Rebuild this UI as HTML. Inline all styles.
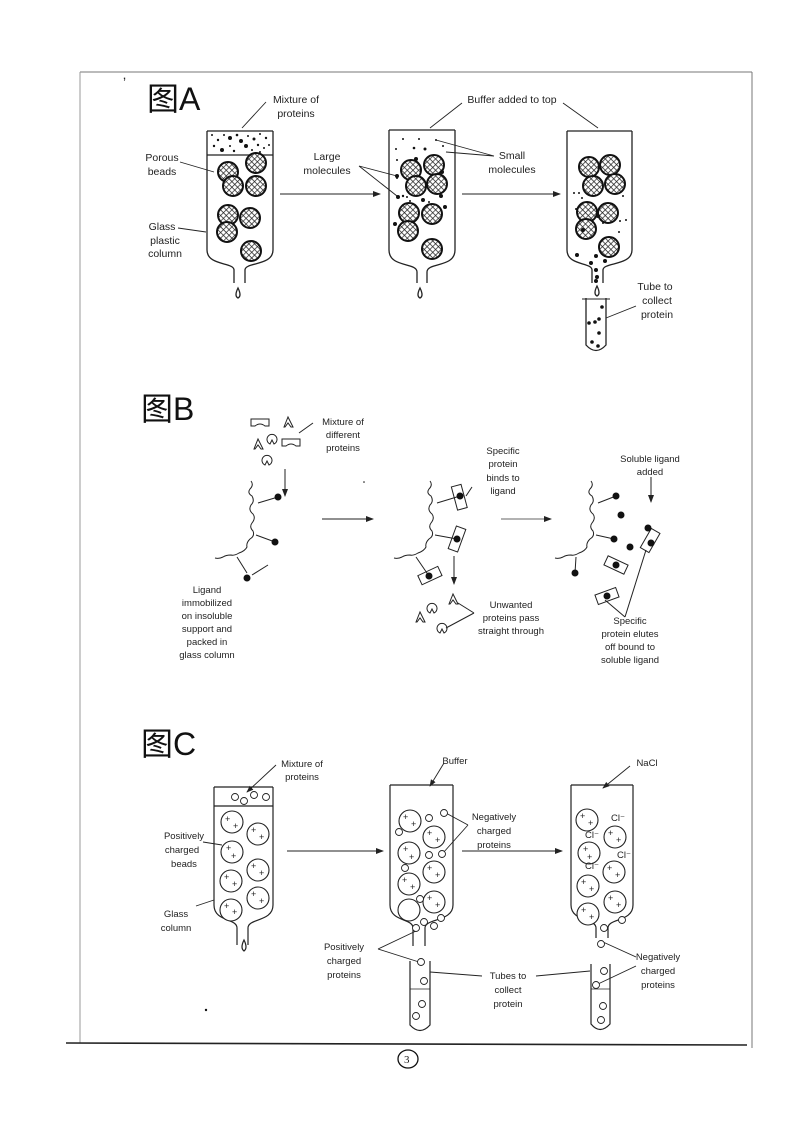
<!DOCTYPE html>
<html><head><meta charset="utf-8"><style>
html,body{margin:0;padding:0;background:#fff}
svg{display:block}
text{font-family:"Liberation Sans",Arial,sans-serif;font-size:10.5px;fill:#222}
.t{font-family:"Liberation Sans","Noto Sans CJK SC",sans-serif;font-size:32px;fill:#111}
</style></head><body>
<svg width="799" height="1122" viewBox="0 0 799 1122" xmlns="http://www.w3.org/2000/svg">
<defs>
<pattern id="h" width="4" height="4" patternUnits="userSpaceOnUse" patternTransform="rotate(45)">
<rect width="4" height="4" fill="#fff"/><path d="M0 0H4M0 0V4" stroke="#222" stroke-width="1.4"/>
</pattern>
<marker id="ar" markerWidth="8" markerHeight="6" refX="7" refY="3" orient="auto"><path d="M0,0 L8,3 L0,6 z" fill="#222"/></marker>
</defs>
<g stroke="#333" fill="none" stroke-width="1">
<!-- frame -->
<line x1="80" y1="72" x2="752" y2="72" stroke="#777"/>
<line x1="80" y1="72" x2="80" y2="1043" stroke="#999"/>
<line x1="752" y1="72" x2="752" y2="1048" stroke="#777"/>
<line x1="66" y1="1043" x2="747" y2="1045" stroke="#222" stroke-width="1.6"/>
<ellipse cx="408" cy="1059" rx="10" ry="9" stroke="#111" stroke-width="1.3"/>
</g>
<text x="404" y="1063" style="font-family:'Liberation Serif',serif;font-size:11px">3</text>
<text x="123" y="88" style="font-size:14px">ʼ</text>

<!-- ===== A ===== -->
<text class="t" x="147" y="110">图A</text>
<g stroke="#222" fill="none" stroke-width="1.3">
<!-- column A1 -->
<path d="M207 131 V250 C207 266 234 262 234 270 V283 M273 131 V250 C273 266 245 262 245 270 V283"/>
<line x1="207" y1="131" x2="273" y2="131"/><line x1="207" y1="155" x2="273" y2="155"/>
<path d="M238 288 Q234 296 238 298 Q242 296 238 288Z"/>
<!-- column A2 -->
<path d="M389 130 V250 C389 268 417 262 417 272 V283 M455 130 V250 C455 268 427 262 427 272 V283"/>
<line x1="389" y1="130" x2="455" y2="130"/>
<path d="M420 288 Q416 296 420 298 Q424 296 420 288Z"/>
<!-- column A3 -->
<path d="M567 131 V250 C567 266 592 262 592 270 V283 M632 131 V250 C632 266 603 262 603 270 V283"/>
<line x1="567" y1="131" x2="632" y2="131"/>
<path d="M597 286 Q593 294 597 296 Q601 294 597 286Z"/>
<path d="M586 298 V345 Q596 356 606 345 V298"/><line x1="582" y1="299" x2="610" y2="299" stroke-width="1"/>
<!-- arrows -->
<line x1="280" y1="194" x2="380" y2="194" marker-end="url(#ar)" stroke-width="1"/>
<line x1="462" y1="194" x2="560" y2="194" marker-end="url(#ar)" stroke-width="1"/>
<!-- leader lines -->
<g stroke-width="0.9">
<path d="M266 102 L242 128"/><path d="M180 162 L214 172"/><path d="M178 228 L206 232"/>
<path d="M359 166 L397 176 M359 166 L397 196"/>
<path d="M494 156 L436 140 M494 156 L446 152"/>
<path d="M462 103 L430 128 M563 103 L598 128"/>
<path d="M636 306 L606 318"/>
</g>
</g>
<g stroke="#111" stroke-width="2" fill="url(#h)">
<circle cx="228" cy="172" r="10"/><circle cx="256" cy="163" r="10"/><circle cx="233" cy="186" r="10"/><circle cx="256" cy="186" r="10"/>
<circle cx="228" cy="215" r="10"/><circle cx="250" cy="218" r="10"/><circle cx="227" cy="232" r="10"/><circle cx="251" cy="251" r="10"/>
<circle cx="411" cy="170" r="10"/><circle cx="434" cy="165" r="10"/><circle cx="416" cy="186" r="10"/><circle cx="437" cy="184" r="10"/>
<circle cx="409" cy="213" r="10"/><circle cx="432" cy="214" r="10"/><circle cx="408" cy="231" r="10"/><circle cx="432" cy="249" r="10"/>
<circle cx="589" cy="167" r="10"/><circle cx="610" cy="165" r="10"/><circle cx="593" cy="186" r="10"/><circle cx="615" cy="184" r="10"/>
<circle cx="587" cy="212" r="10"/><circle cx="608" cy="213" r="10"/><circle cx="586" cy="229" r="10"/><circle cx="609" cy="247" r="10"/>
</g>
<g fill="#111">
<!-- mixture dots -->
<circle cx="212" cy="135" r="1"/><circle cx="218" cy="140" r="1.2"/><circle cx="224" cy="135" r="1"/><circle cx="230" cy="138" r="2"/><circle cx="237" cy="135" r="1.3"/><circle cx="241" cy="141" r="2"/><circle cx="248" cy="136" r="1"/><circle cx="254" cy="139" r="1.5"/><circle cx="260" cy="134" r="1"/><circle cx="266" cy="138" r="1.2"/>
<circle cx="214" cy="146" r="1.2"/><circle cx="222" cy="150" r="2"/><circle cx="230" cy="146" r="1"/><circle cx="234" cy="151" r="1.2"/><circle cx="246" cy="146" r="2"/><circle cx="252" cy="150" r="1"/><circle cx="258" cy="145" r="1.2"/><circle cx="264" cy="148" r="1"/><circle cx="269" cy="145" r="1"/><circle cx="260" cy="152" r="1"/>
<!-- A2 -->
<circle cx="396" cy="149" r="1"/><circle cx="403" cy="139" r="1"/><circle cx="414" cy="148" r="1.3"/><circle cx="419" cy="139" r="1"/><circle cx="425" cy="149" r="1.5"/><circle cx="436" cy="140" r="1"/><circle cx="443" cy="146" r="1"/><circle cx="397" cy="160" r="1"/><circle cx="416" cy="159" r="2"/><circle cx="397" cy="178" r="1"/>
<circle cx="398" cy="197" r="2"/><circle cx="403" cy="196" r="1.2"/><circle cx="407" cy="197" r="1"/><circle cx="397" cy="176" r="2"/><circle cx="423" cy="200" r="2"/><circle cx="442" cy="172" r="2"/><circle cx="441" cy="196" r="2"/><circle cx="445" cy="207" r="2"/><circle cx="395" cy="224" r="2"/><circle cx="429" cy="202" r="1"/><circle cx="410" cy="201" r="1"/>
<!-- A3 -->
<circle cx="574" cy="193" r="1"/><circle cx="579" cy="193" r="1"/><circle cx="582" cy="198" r="1"/><circle cx="623" cy="196" r="1"/><circle cx="576" cy="209" r="1"/><circle cx="603" cy="223" r="1"/><circle cx="620" cy="221" r="1"/><circle cx="626" cy="220" r="1"/><circle cx="619" cy="232" r="1"/><circle cx="583" cy="230" r="2"/><circle cx="598" cy="216" r="2"/>
<circle cx="577" cy="255" r="2"/><circle cx="596" cy="256" r="2"/><circle cx="605" cy="261" r="2"/><circle cx="591" cy="263" r="2"/><circle cx="596" cy="270" r="2"/><circle cx="597" cy="277" r="2"/><circle cx="596" cy="281" r="2"/>
<circle cx="602" cy="307" r="1.8"/><circle cx="599" cy="319" r="1.8"/><circle cx="589" cy="323" r="1.8"/><circle cx="595" cy="322" r="1.8"/><circle cx="599" cy="333" r="1.8"/><circle cx="592" cy="342" r="1.8"/><circle cx="598" cy="346" r="1.8"/>
</g>
<g text-anchor="middle">
<text x="296" y="103">Mixture of</text><text x="296" y="117">proteins</text>
<text x="162" y="161">Porous</text><text x="162" y="175">beads</text>
<text x="162" y="230">Glass</text><text x="165" y="244">plastic</text><text x="165" y="257">column</text>
<text x="327" y="160">Large</text><text x="327" y="174">molecules</text>
<text x="512" y="159">Small</text><text x="512" y="173">molecules</text>
<text x="512" y="103">Buffer added to top</text>
<text x="655" y="290">Tube to</text><text x="657" y="304">collect</text><text x="657" y="318">protein</text>
</g>

<!-- ===== B ===== -->
<text class="t" x="141" y="420">图B</text>
<g stroke="#222" fill="none" stroke-width="1">
<!-- proteins top -->
<path d="M251 419 h18 v7 h-4 q-5 -4 -10 0 h-4z"/><path d="M282 439 h18 v7 h-4 q-5 -4 -10 0 h-4z"/>
<path d="M284 427 l4 -10 l5 10 l-2 0 l-3 -4 l-3 4z"/><path d="M254 449 l4 -10 l5 10 l-2 0 l-3 -4 l-3 4z"/>
<path d="M270 444 a5 5 0 1 1 4 0 l-2 -4z"/><path d="M265 465 a5 5 0 1 1 4 0 l-2 -4z"/>
<path d="M313 423 L299 433"/>
<line x1="285" y1="469" x2="285" y2="496" marker-end="url(#ar)"/>
<!-- chain 1 -->
<path d="M251 481 q3 4 -1 8 q-3 4 2 7 q3 5 -1 9 q-3 5 2 9 q3 4 -1 9 q-3 4 1 8 q2 5 -3 8 q-4 4 -3 8 q-2 4 -8 6 q-5 3 -8 2 q-5 0 -8 2 q-4 2 -8 1"/>
<path d="M258 503 L278 497 M256 535 L275 542 M237 557 L247 573"/>
<line x1="322" y1="519" x2="373" y2="519" marker-end="url(#ar)"/>
<path d="M268 565 L252 575"/>
<!-- chain 2 -->
<path d="M430 481 q3 4 -1 8 q-3 4 2 7 q3 5 -1 9 q-3 5 2 9 q3 4 -1 9 q-3 4 1 8 q2 5 -3 8 q-4 4 -3 8 q-2 4 -8 6 q-5 3 -8 2 q-5 0 -8 2 q-4 2 -8 1"/>
<path d="M437 503 L460 496 M435 535 L457 539 M416 557 L429 576"/>
<rect x="454" y="485" width="10" height="24" transform="rotate(-15 460 496)"/>
<rect x="452" y="527" width="10" height="24" transform="rotate(20 457 539)"/>
<rect x="419" y="571" width="22" height="10" transform="rotate(-25 429 576)"/>
<path d="M472 487 L466 496"/>
<line x1="454" y1="556" x2="454" y2="584" marker-end="url(#ar)"/>
<path d="M449 604 l4 -10 l5 10 l-2 0 l-3 -4 l-3 4z"/><path d="M416 622 l4 -10 l5 10 l-2 0 l-3 -4 l-3 4z"/>
<path d="M430 613 a5 5 0 1 1 4 0 l-2 -4z"/><path d="M440 633 a5 5 0 1 1 4 0 l-2 -4z"/>
<path d="M474 613 L458 603 M474 613 L446 628"/>
<line x1="501" y1="519" x2="551" y2="519" marker-end="url(#ar)" stroke="#666"/>
<!-- chain 3 -->
<path d="M591 481 q3 4 -1 8 q-3 4 2 7 q3 5 -1 9 q-3 5 2 9 q3 4 -1 9 q-3 4 1 8 q2 5 -3 8 q-4 4 -3 8 q-2 4 -8 6 q-5 3 -8 2 q-5 0 -8 2 q-4 2 -8 1"/>
<path d="M598 503 L616 496 M596 535 L614 539 M576 557 L575 573"/>
<rect x="645" y="530" width="10" height="22" transform="rotate(30 651 541)"/>
<rect x="605" y="560" width="22" height="10" transform="rotate(25 616 565)"/>
<rect x="596" y="591" width="22" height="10" transform="rotate(-20 607 596)"/>
<line x1="651" y1="477" x2="651" y2="502" marker-end="url(#ar)"/>
<path d="M625 617 L605 600 M625 617 L646 550"/>
</g>
<g fill="#111">
<circle cx="278" cy="497" r="3.5"/><circle cx="275" cy="542" r="3.5"/><circle cx="247" cy="578" r="3.5"/>
<circle cx="460" cy="496" r="3.5"/><circle cx="457" cy="539" r="3.5"/><circle cx="429" cy="576" r="3.5"/>
<circle cx="616" cy="496" r="3.5"/><circle cx="614" cy="539" r="3.5"/><circle cx="575" cy="573" r="3.5"/>
<circle cx="621" cy="515" r="3.5"/><circle cx="648" cy="528" r="3.5"/><circle cx="630" cy="547" r="3.5"/><circle cx="651" cy="543" r="3.5"/><circle cx="616" cy="565" r="3.5"/><circle cx="607" cy="596" r="3.5"/>
<circle cx="364" cy="482" r="0.8"/><circle cx="206" cy="1010" r="1.2"/>
</g>
<g text-anchor="middle" style="font-size:9.5px">
<text x="343" y="425" style="font-size:9.5px">Mixture of</text><text x="343" y="438" style="font-size:9.5px">different</text><text x="343" y="451" style="font-size:9.5px">proteins</text>
<text x="207" y="593" style="font-size:9.5px">Ligand</text><text x="207" y="606" style="font-size:9.5px">immobilized</text><text x="207" y="619" style="font-size:9.5px">on insoluble</text><text x="207" y="632" style="font-size:9.5px">support and</text><text x="207" y="645" style="font-size:9.5px">packed in</text><text x="207" y="658" style="font-size:9.5px">glass column</text>
<text x="503" y="454" style="font-size:9.5px">Specific</text><text x="503" y="467" style="font-size:9.5px">protein</text><text x="503" y="481" style="font-size:9.5px">binds to</text><text x="503" y="494" style="font-size:9.5px">ligand</text>
<text x="511" y="608" style="font-size:9.5px">Unwanted</text><text x="511" y="621" style="font-size:9.5px">proteins pass</text><text x="511" y="634" style="font-size:9.5px">straight through</text>
<text x="650" y="462" style="font-size:9.5px">Soluble ligand</text><text x="650" y="475" style="font-size:9.5px">added</text>
<text x="630" y="624" style="font-size:9.5px">Specific</text><text x="630" y="637" style="font-size:9.5px">protein elutes</text><text x="630" y="650" style="font-size:9.5px">off bound to</text><text x="630" y="663" style="font-size:9.5px">soluble ligand</text>
</g>

<!-- ===== C ===== -->
<text class="t" x="141" y="755">图C</text>
<g stroke="#222" fill="none" stroke-width="1.2">
<!-- C1 -->
<path d="M214 787 V905 C214 922 237 918 237 928 V945 M273 787 V905 C273 922 248 918 248 928 V945"/>
<line x1="214" y1="787" x2="273" y2="787"/><line x1="214" y1="806" x2="273" y2="806"/>
<path d="M244 940 Q240 948 244 951 Q248 948 244 940Z"/>
<!-- C2 -->
<path d="M390 785 V905 C390 922 413 918 413 928 V946 M453 785 V905 C453 922 425 918 425 928 V946"/>
<line x1="390" y1="785" x2="453" y2="785"/>
<path d="M410 961 V1025 Q420 1036 430 1025 V961"/><line x1="410" y1="989" x2="430" y2="989" stroke-width="0.8"/>
<!-- C3 -->
<path d="M571 785 V905 C571 922 596 918 596 928 V938 M633 785 V905 C633 922 608 918 608 928 V938"/>
<line x1="571" y1="785" x2="633" y2="785"/>
<path d="M591 964 V1024 Q600 1035 610 1024 V964"/><line x1="591" y1="989" x2="610" y2="989" stroke-width="0.8"/>
<!-- arrows -->
<line x1="287" y1="851" x2="383" y2="851" marker-end="url(#ar)" stroke-width="1"/>
<line x1="462" y1="851" x2="562" y2="851" marker-end="url(#ar)" stroke-width="1"/>
<!-- leaders -->
<g stroke-width="0.9">
<line x1="276" y1="765" x2="247" y2="792" marker-end="url(#ar)"/>
<line x1="444" y1="763" x2="430" y2="786" marker-end="url(#ar)"/>
<line x1="630" y1="766" x2="603" y2="788" marker-end="url(#ar)"/>
<path d="M203 842 L222 845 M196 906 L214 900"/>
<path d="M468 825 L444 812 M468 825 L443 853"/>
<path d="M378 949 L416 931 M378 949 L419 962"/>
<path d="M430 972 L482 976 M536 976 L590 971"/>
<path d="M636 957 L603 942 M636 966 L598 984"/>
</g>
</g>
<g stroke="#222" fill="#fff" stroke-width="1.1">
<circle cx="232" cy="822" r="11"/><circle cx="258" cy="834" r="11"/><circle cx="232" cy="852" r="11"/><circle cx="258" cy="870" r="11"/><circle cx="231" cy="881" r="11"/><circle cx="258" cy="898" r="11"/><circle cx="231" cy="910" r="11"/>
<circle cx="410" cy="821" r="11"/><circle cx="434" cy="837" r="11"/><circle cx="409" cy="853" r="11"/><circle cx="434" cy="872" r="11"/><circle cx="409" cy="884" r="11"/><circle cx="434" cy="902" r="11"/><circle cx="409" cy="910" r="11"/>
<circle cx="587" cy="820" r="11"/><circle cx="615" cy="837" r="11"/><circle cx="589" cy="853" r="11"/><circle cx="614" cy="872" r="11"/><circle cx="588" cy="886" r="11"/><circle cx="615" cy="902" r="11"/><circle cx="588" cy="914" r="11"/>
</g>
<g stroke="#222" fill="#fff" stroke-width="0.9">
<circle cx="235" cy="797" r="3.5"/><circle cx="244" cy="801" r="3.5"/><circle cx="254" cy="795" r="3.5"/><circle cx="266" cy="797" r="3.5"/>
<circle cx="429" cy="818" r="3.5"/><circle cx="444" cy="813" r="3.5"/><circle cx="399" cy="832" r="3.5"/><circle cx="429" cy="855" r="3.5"/><circle cx="442" cy="854" r="3.5"/><circle cx="405" cy="868" r="3.5"/><circle cx="420" cy="899" r="3.5"/>
<circle cx="416" cy="928" r="3.5"/><circle cx="424" cy="922" r="3.5"/><circle cx="434" cy="926" r="3.5"/><circle cx="441" cy="918" r="3.5"/>
<circle cx="421" cy="962" r="3.5"/><circle cx="424" cy="981" r="3.5"/><circle cx="422" cy="1004" r="3.5"/><circle cx="416" cy="1016" r="3.5"/>
<circle cx="604" cy="928" r="3.5"/><circle cx="622" cy="920" r="3.5"/><circle cx="601" cy="944" r="3.5"/>
<circle cx="604" cy="971" r="3.5"/><circle cx="596" cy="985" r="3.5"/><circle cx="603" cy="1006" r="3.5"/><circle cx="601" cy="1020" r="3.5"/>
</g>
<g style="font-size:8px" fill="#222">
<text x="225" y="822" style="font-size:9px">+</text><text x="233" y="829" style="font-size:9px">+</text>
<text x="251" y="833" style="font-size:9px">+</text><text x="259" y="840" style="font-size:9px">+</text>
<text x="226" y="851" style="font-size:9px">+</text><text x="231" y="859" style="font-size:9px">+</text>
<text x="251" y="869" style="font-size:9px">+</text><text x="259" y="876" style="font-size:9px">+</text>
<text x="224" y="880" style="font-size:9px">+</text><text x="232" y="887" style="font-size:9px">+</text>
<text x="251" y="897" style="font-size:9px">+</text><text x="259" y="904" style="font-size:9px">+</text>
<text x="224" y="909" style="font-size:9px">+</text><text x="232" y="915" style="font-size:9px">+</text>
<text x="403" y="820" style="font-size:9px">+</text><text x="411" y="827" style="font-size:9px">+</text>
<text x="427" y="836" style="font-size:9px">+</text><text x="435" y="843" style="font-size:9px">+</text>
<text x="403" y="852" style="font-size:9px">+</text><text x="409" y="860" style="font-size:9px">+</text>
<text x="427" y="871" style="font-size:9px">+</text><text x="435" y="878" style="font-size:9px">+</text>
<text x="402" y="883" style="font-size:9px">+</text><text x="410" y="890" style="font-size:9px">+</text>
<text x="427" y="901" style="font-size:9px">+</text><text x="435" y="908" style="font-size:9px">+</text>
<text x="580" y="819" style="font-size:9px">+</text><text x="588" y="826" style="font-size:9px">+</text>
<text x="608" y="836" style="font-size:9px">+</text><text x="616" y="843" style="font-size:9px">+</text>
<text x="583" y="852" style="font-size:9px">+</text><text x="587" y="860" style="font-size:9px">+</text>
<text x="607" y="871" style="font-size:9px">+</text><text x="615" y="878" style="font-size:9px">+</text>
<text x="581" y="885" style="font-size:9px">+</text><text x="589" y="892" style="font-size:9px">+</text>
<text x="608" y="901" style="font-size:9px">+</text><text x="616" y="908" style="font-size:9px">+</text>
<text x="581" y="913" style="font-size:9px">+</text><text x="589" y="920" style="font-size:9px">+</text>
</g>
<g style="font-size:9.5px" fill="#444">
<text x="611" y="821" style="font-size:9.5px">Cl⁻</text><text x="585" y="838" style="font-size:9.5px">Cl⁻</text><text x="617" y="858" style="font-size:9.5px">Cl⁻</text><text x="585" y="869" style="font-size:9.5px">Cl⁻</text>
</g>
<g text-anchor="middle">
<text x="302" y="767" style="font-size:9.5px">Mixture of</text><text x="302" y="780" style="font-size:9.5px">proteins</text>
<text x="455" y="764" style="font-size:9.5px">Buffer</text>
<text x="647" y="766" style="font-size:9.5px" fill="#666">NaCl</text>
<text x="184" y="839" style="font-size:9.5px">Positively</text><text x="182" y="853" style="font-size:9.5px">charged</text><text x="184" y="867" style="font-size:9.5px">beads</text>
<text x="176" y="917" style="font-size:9.5px">Glass</text><text x="176" y="931" style="font-size:9.5px">column</text>
<text x="494" y="820" style="font-size:9.5px">Negatively</text><text x="494" y="834" style="font-size:9.5px">charged</text><text x="494" y="848" style="font-size:9.5px">proteins</text>
<text x="344" y="950" style="font-size:9.5px">Positively</text><text x="344" y="964" style="font-size:9.5px">charged</text><text x="344" y="978" style="font-size:9.5px">proteins</text>
<text x="508" y="979" style="font-size:9.5px">Tubes to</text><text x="508" y="993" style="font-size:9.5px">collect</text><text x="508" y="1007" style="font-size:9.5px">protein</text>
<text x="658" y="960" style="font-size:9.5px">Negatively</text><text x="658" y="974" style="font-size:9.5px">charged</text><text x="658" y="988" style="font-size:9.5px">proteins</text>
</g>
</svg>
</body></html>
